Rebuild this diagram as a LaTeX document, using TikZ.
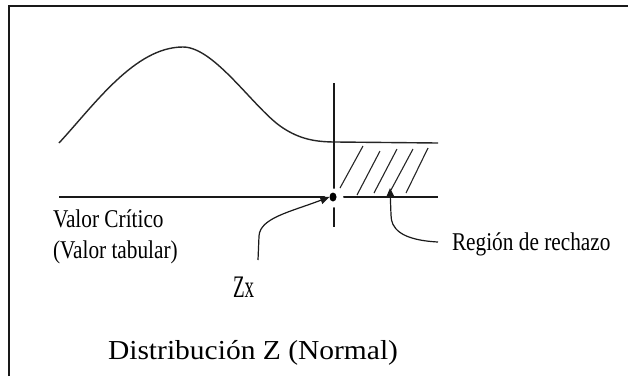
\documentclass[tikz,border=0pt]{standalone}
\usepackage{fontspec}
\setmainfont{Liberation Serif}
\usetikzlibrary{arrows.meta,shapes.geometric}
\begin{document}
\begin{tikzpicture}[x=1pt,y=-1pt,
  lbl/.style={anchor=base west,inner sep=0pt,outer sep=0pt,text=black},
  curveline/.style={line width=1.4pt,draw=black!85},
  axisline/.style={line width=1.5pt,draw=black!90},
  hatchline/.style={line width=1.1pt,draw=black!85},
  pointer/.style={line width=1.2pt,draw=black!90,-{Triangle[length=9pt,width=8pt]}},
  frameline/.style={line width=2.2pt,draw=black!90}]
\useasboundingbox (0,0) rectangle (628,376);
% frame (only top and left visible)
\draw[frameline] (9,376) -- (9,6) -- (628,6);
% density curve
\draw[curveline] (59,143) .. controls (95,104) and (135,47) .. (183,47)
  .. controls (215,47) and (255,110) .. (283,128)
  .. controls (300,139) and (315,142) .. (336,142) -- (438,143);
% vertical critical line
\draw[axisline] (334,83) -- (334,227);
% baseline
\draw[axisline] (59,197) -- (438,197);
% hatching
\draw[hatchline] (363,146) -- (340,188);
\draw[hatchline] (380,151) -- (357,195);
\draw[hatchline] (397,149) -- (374,193);
\draw[hatchline] (413,149) -- (391,190);
\draw[hatchline] (428,148) -- (406,193);
% critical point
\fill[white] (334,198) circle (9.5);
\node[ellipse,fill=black,inner sep=0pt,minimum width=7pt,minimum height=9pt] (zc) at (333,197) {};
% labels
\node[lbl,font=\fontsize{21.3}{24}\selectfont] (vc) at (53,227) {\scalebox{1}[1.2]{Valor Crítico}};
\node[lbl,font=\fontsize{21.3}{24}\selectfont] (vt) at (53,258) {\scalebox{1}[1.2]{(Valor tabular)}};
\node[lbl,font=\fontsize{21.3}{24}\selectfont] (rr) at (452,250) {\scalebox{1}[1.2]{Región de rechazo}};
\node[lbl,font=\fontsize{19}{22}\selectfont] (zx) at (233,297) {\scalebox{1}[1.65]{Zx}};
\node[lbl,font=\fontsize{29.5}{32}\selectfont] (dz) at (108,359) {\scalebox{1}[0.93]{Distribución Z (Normal)}};
% pointers
\coordinate (zxs) at (258,260);
\coordinate (rrs) at (438,242);
\coordinate (rrt) at (390,188);
\draw[pointer] (zxs) -- (259,236) .. controls (260,218) and (290,212) .. (zc.west);
\draw[pointer] (rrs) .. controls (400,240) and (391,228) .. (391,215) -- (rrt);
\end{tikzpicture}
\end{document}
